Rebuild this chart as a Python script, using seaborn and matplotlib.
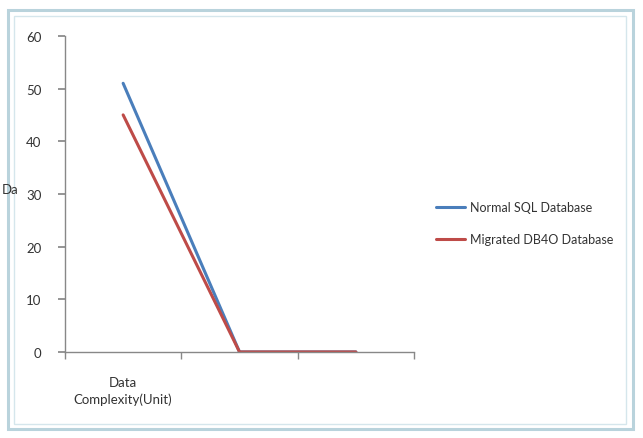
import matplotlib
matplotlib.use("Agg")
import matplotlib.pyplot as plt
import seaborn as sns
import pandas as pd
from matplotlib.patches import Rectangle

categories = ["Data\nComplexity(Unit)", "", ""]
sql_values = [51, 0, 0]
db4o_values = [45, 0, 0]
series_names = ["Normal SQL Database", "Migrated DB4O Database"]
y_ticks = [0, 10, 20, 30, 40, 50, 60]

sns.set_theme(style="white")
plt.rcParams["font.family"] = ["Lato", "DejaVu Sans"]

df = pd.DataFrame({
    "pos": list(range(len(categories))) * 2,
    "value": sql_values + db4o_values,
    "series": [series_names[0]] * len(categories) + [series_names[1]] * len(categories),
})

fig = plt.figure(figsize=(6.43, 4.39), dpi=100)
fig.patch.set_facecolor("white")

# outer chart frame (screenshot look)
frame = Rectangle((0.012, 0.02), 0.972, 0.955, transform=fig.transFigure,
                  fill=False, edgecolor="#b9d3dc", linewidth=2.2)
fig.patches.append(frame)
frame2 = Rectangle((0.022, 0.032), 0.952, 0.93, transform=fig.transFigure,
                   fill=False, edgecolor="#d5e6ec", linewidth=1.0)
fig.patches.append(frame2)

ax = fig.add_axes([0.101, 0.196, 0.543, 0.72])
sns.lineplot(data=df, x="pos", y="value", hue="series",
             palette=["#4A7EBB", "#BE4B48"], linewidth=2.2, ax=ax, legend=True)

ax.set_xlim(-0.5, len(categories) - 0.5)
ax.set_ylim(0, 60)
ax.set_yticks(y_ticks)
ax.set_yticklabels([str(t) for t in y_ticks], fontsize=9.5, color="#333333")
ax.set_xticks(range(len(categories)))
ax.set_xticklabels(categories, fontsize=9.5, color="#333333", linespacing=1.5)
ax.set_xticks([i - 0.5 for i in range(len(categories) + 1)], minor=True)
ax.tick_params(axis="x", which="major", length=0, pad=17)
ax.tick_params(axis="x", which="minor", length=5, color="#888888", direction="out", bottom=True)
ax.tick_params(axis="y", length=5, color="#888888", direction="out", left=True, pad=12)
ax.set_xlabel("")
ax.set_ylabel("")
for s in ["top", "right"]:
    ax.spines[s].set_visible(False)
for s in ["left", "bottom"]:
    ax.spines[s].set_color("#888888")
    ax.spines[s].set_linewidth(1.0)

leg = ax.legend(loc="center left", bbox_to_anchor=(1.03, 0.408), frameon=False,
                fontsize=9, handlelength=2.3, labelspacing=1.6, handletextpad=0.4)
for t in leg.get_texts():
    t.set_color("#333333")

fig.text(0.003, 0.568, "Da", fontsize=9.5, color="#333333", va="center")

fig.savefig("out.png", dpi=100)
